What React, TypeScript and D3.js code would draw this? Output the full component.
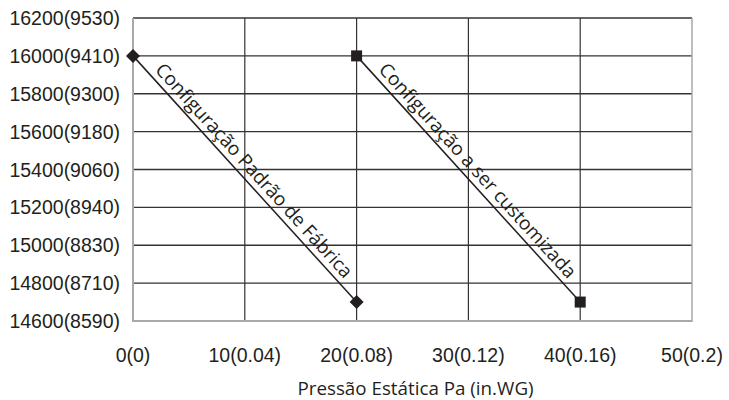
import React from "react";
import * as d3 from "d3";

const xTickValues = [0, 10, 20, 30, 40, 50];
const xTickSecondary = ["0", "0.04", "0.08", "0.12", "0.16", "0.2"];
const yTickValues = [14600, 14800, 15000, 15200, 15400, 15600, 15800, 16000, 16200];
const yTickSecondary = ["8590", "8710", "8830", "8940", "9060", "9180", "9300", "9410", "9530"];

const factoryX = [0, 20];
const factoryY = [16000, 14700];
const customX = [20, 40];
const customY = [16000, 14700];

const factoryLabel = "Configuração Padrão de Fábrica";
const customLabel = "Configuração a ser customizada";
const xTitle = "Pressão Estática Pa (in.WG)";

const W = 729;
const H = 400;
const M = { left: 133, right: 37, top: 18, bottom: 79 };

export default function App() {
  const x = d3.scaleLinear().domain([0, 50]).range([M.left, W - M.right]);
  const y = d3.scaleLinear().domain([14600, 16200]).range([H - M.bottom, M.top]);
  const line = d3
    .line<[number, number]>()
    .x((d) => x(d[0]))
    .y((d) => y(d[1]));

  const factoryPts: [number, number][] = factoryX.map((v, i) => [v, factoryY[i]]);
  const customPts: [number, number][] = customX.map((v, i) => [v, customY[i]]);

  const label = (pts: [number, number][], text: string, key: string) => {
    const x0 = x(pts[0][0]);
    const y0 = y(pts[0][1]);
    const x1 = x(pts[1][0]);
    const y1 = y(pts[1][1]);
    const ang = (Math.atan2(y1 - y0, x1 - x0) * 180) / Math.PI;
    const t = 0.5;
    const mx = x0 + (x1 - x0) * t;
    const my = y0 + (y1 - y0) * t;
    return (
      <text
        key={key}
        transform={`translate(${mx},${my}) rotate(${ang})`}
        dy={-6}
        textAnchor="middle"
        fontFamily="'Open Sans', sans-serif"
        fontSize={19}
        fill="#231f20"
      >
        {text}
      </text>
    );
  };

  const x0 = x(0);
  const x1 = x(50);
  const yTop = y(16200);
  const yBot = y(14600);
  const diamond = "M0,-7L7,0L0,7L-7,0Z";

  return (
    <svg width={W} height={H} style={{ display: "block", position: "absolute", left: 0, top: 0 }}>
      <rect width={W} height={H} fill="#fff" />
      {yTickValues.map((v) => (
        <line key={`h${v}`} x1={x0} x2={x1} y1={y(v)} y2={y(v)} stroke="#333" strokeWidth={1.4} />
      ))}
      {xTickValues.slice(1, -1).map((v) => (
        <line key={`v${v}`} x1={x(v)} x2={x(v)} y1={yTop} y2={yBot} stroke="#333" strokeWidth={1.2} />
      ))}
      <line x1={x0} x2={x0} y1={yTop} y2={yBot + 1} stroke="#a7a9ac" strokeWidth={2} />
      <line x1={x1} x2={x1} y1={yTop} y2={yBot + 1} stroke="#a7a9ac" strokeWidth={1.5} />
      <line x1={x0} x2={x1} y1={yBot} y2={yBot} stroke="#a7a9ac" strokeWidth={2} />

      <path d={line(factoryPts) || ""} fill="none" stroke="#231f20" strokeWidth={1.5} />
      <path d={line(customPts) || ""} fill="none" stroke="#231f20" strokeWidth={1.5} />

      {factoryPts.map((p, i) => (
        <path key={`d${i}`} d={diamond} transform={`translate(${x(p[0])},${y(p[1])})`} fill="#231f20" />
      ))}
      {customPts.map((p, i) => (
        <rect key={`s${i}`} x={x(p[0]) - 5.5} y={y(p[1]) - 5.5} width={11} height={11} fill="#231f20" />
      ))}

      {label(factoryPts, factoryLabel, "lf")}
      {label(customPts, customLabel, "lc")}

      {yTickValues.map((v, i) => (
        <text
          key={`yl${v}`}
          x={120}
          y={y(v)}
          dy="0.36em"
          textAnchor="end"
          fontFamily="'Liberation Sans', Arial, sans-serif"
          fontSize={19.5}
          fill="#231f20"
        >
          {`${v}(${yTickSecondary[i]})`}
        </text>
      ))}
      {xTickValues.map((v, i) => (
        <text
          key={`xl${v}`}
          x={x(v)}
          y={362}
          textAnchor="middle"
          fontFamily="'Liberation Sans', Arial, sans-serif"
          fontSize={19.5}
          fill="#231f20"
        >
          {`${v}(${xTickSecondary[i]})`}
        </text>
      ))}
      <text
        x={(x0 + x1) / 2 + 3}
        y={394.5}
        textAnchor="middle"
        fontFamily="'Open Sans', sans-serif"
        fontSize={18.8}
        fill="#231f20"
      >
        {xTitle}
      </text>
    </svg>
  );
}
